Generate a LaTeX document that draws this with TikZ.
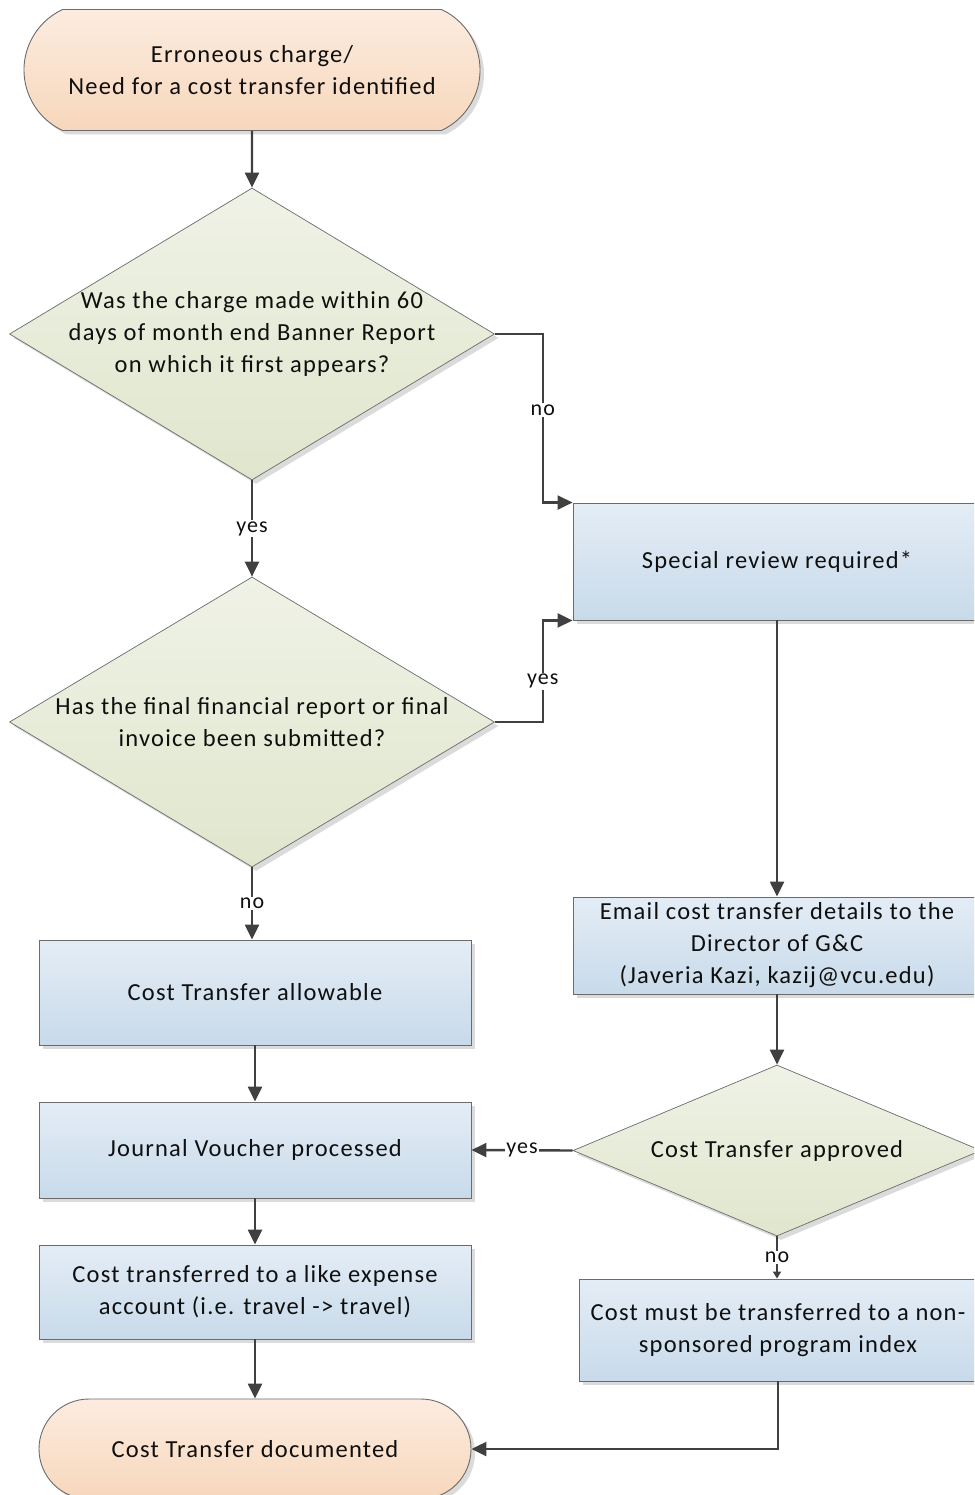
\documentclass[tikz,border=0pt]{standalone}
\usepackage{fontspec}
\setmainfont{Carlito}[LetterSpace=5]
\usetikzlibrary{arrows.meta,positioning,shapes.geometric,shapes.misc,shadows}
\definecolor{ink}{HTML}{0F0F0F}
\definecolor{edge}{HTML}{404040}
\definecolor{outline}{HTML}{6B6B6B}
\definecolor{termtop}{HTML}{FCECDF}
\definecolor{termbot}{HTML}{F7D7BC}
\definecolor{decitop}{HTML}{EFF2E6}
\definecolor{decibot}{HTML}{E0E6CD}
\definecolor{proctop}{HTML}{E4EDF6}
\definecolor{procbot}{HTML}{C8DAEA}

\begin{document}
\begin{tikzpicture}[
  x=1pt, y=-1pt,
  font=\fontsize{24.5}{32}\selectfont,
  text=ink,
  shade/.style={drop shadow={shadow xshift=4pt, shadow yshift=-4pt, fill=black!14, opacity=1}},
  terminal/.style={
    rounded rectangle,
    draw=outline,
    line width=0.9pt,
    top color=termtop, bottom color=termbot,
    shade,
    align=center,
    inner sep=0pt
  },
  process/.style={
    rectangle,
    draw=outline,
    line width=0.9pt,
    top color=proctop, bottom color=procbot,
    shade,
    align=center,
    inner sep=0pt
  },
  decision/.style={
    diamond,
    draw=outline,
    line width=0.7pt,
    top color=decitop, bottom color=decibot,
    shade,
    inner sep=0pt
  },
  qtext/.style={align=center, inner sep=0pt},
  arrow/.style={-{Triangle[length=15pt,width=14pt]}, line width=2.4pt, draw=edge},
  smallarrow/.style={-{Triangle[length=7pt,width=8pt]}, line width=2.4pt, draw=edge},
  lbl/.style={font=\fontsize{22}{24}\selectfont, fill=white, inner sep=1.5pt}
]
\useasboundingbox (0,0) rectangle (974,1495);
\clip (0,0) rectangle (974,1495);

% left column
\node[terminal, rounded rectangle arc length=130, minimum width=456pt, minimum height=121pt] (start) at (252,70)
  {Erroneous charge/\\Need for a cost transfer identified};
\node[decision, minimum width=485pt, minimum height=292pt] (q1) at (252,334) {};
\node[qtext] (q1text) at (q1) {Was the charge made within 60\\days of month end Banner Report\\on which it first appears?};
\node[decision, minimum width=485pt, minimum height=290pt] (q2) at (252,722) {};
\node[qtext] (q2text) at (q2) {Has the final financial report or final\\invoice been submitted?};
\node[process, minimum width=432pt, minimum height=105pt] (allow) at (255,992.5) {Cost Transfer allowable};
\node[process, minimum width=432pt, minimum height=96pt] (voucher) at (255,1150) {Journal Voucher processed};
\node[process, minimum width=432pt, minimum height=94pt] (moved) at (255,1292)
  {Cost transferred to a like expense\\account (i.e. travel -> travel)};
\node[terminal, minimum width=432pt, minimum height=100pt] (done) at (255,1449) {Cost Transfer documented};

% right column
\node[process, minimum width=408pt, minimum height=117pt] (review) at (777,561.5) {Special review required*};
\node[process, minimum width=408pt, minimum height=97pt] (email) at (777,945.5)
  {Email cost transfer details to the\\Director of G\&C\\(Javeria Kazi, kazij@vcu.edu)};
\node[decision, minimum width=408pt, minimum height=171pt] (q3) at (777,1150.5) {};
\node[qtext] (q3text) at (q3) {Cost Transfer approved};
\node[process, minimum width=398pt, minimum height=102pt] (nonsp) at (778,1330)
  {Cost must be transferred to a non-\\sponsored program index};

% connectors
\draw[arrow] (start) -- (q1);
\draw[arrow] (q1) -- node[lbl] {yes} (q2);
\draw[arrow] (q1.east) -- ++(48,0) |- node[lbl, pos=0.225] {no} (review.north west);
\draw[arrow] (q2.east) -- ++(48,0) |- node[lbl, pos=0.2] {yes} (review.south west);
\draw[arrow] (q2.south) -- node[lbl] {no} (q2.south |- allow.north);
\draw[arrow] (allow) -- (voucher);
\draw[arrow] (voucher) -- (moved);
\draw[arrow] (moved) -- (done);
\draw[arrow] (review) -- (email);
\draw[arrow] (email) -- (q3);
\draw[arrow] (q3.west) -- node[lbl] {yes} (voucher.east);
\draw[smallarrow] (q3.south) -- node[lbl] {no} (q3.south |- nonsp.north);
\draw[arrow] (nonsp.south) |- (done.east);

\end{tikzpicture}
\end{document}
